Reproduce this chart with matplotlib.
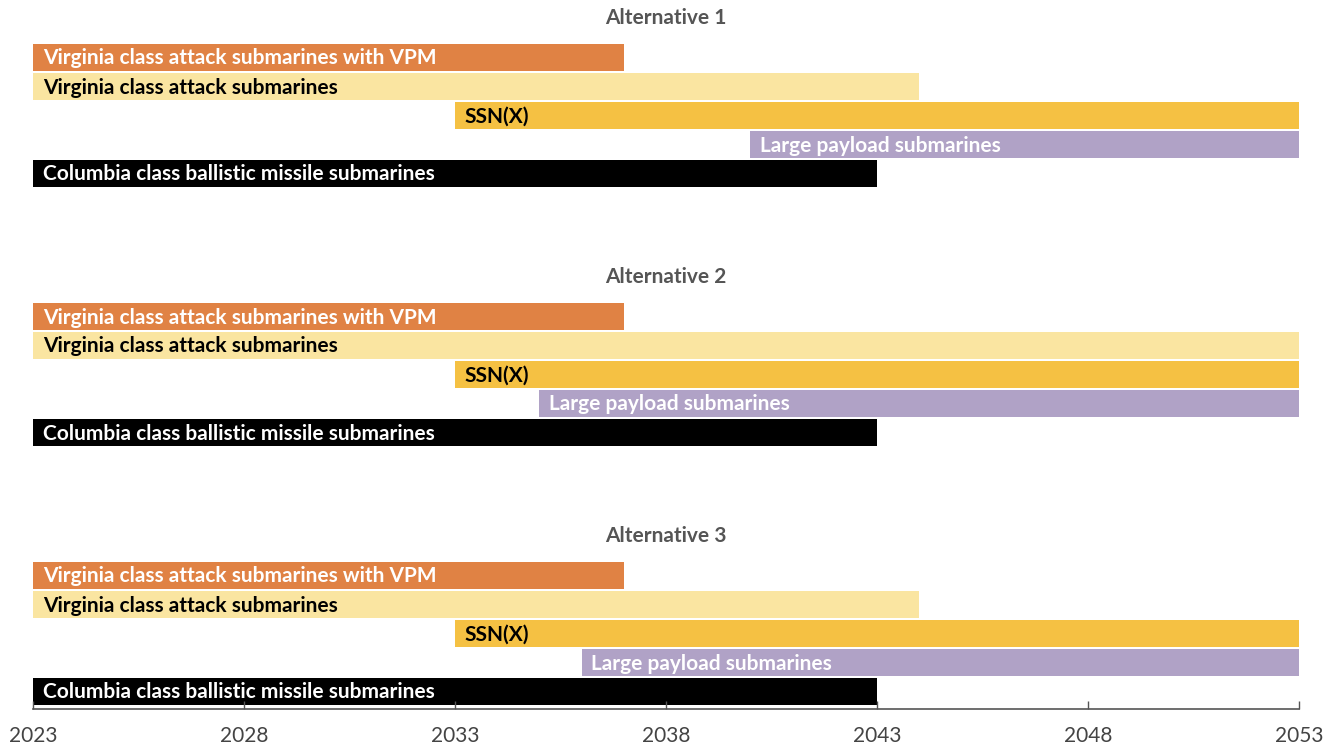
import matplotlib.pyplot as plt

# submarine build programs, start/end year per alternative
programs = ["Virginia class attack submarines with VPM",
            "Virginia class attack submarines",
            "SSN(X)",
            "Large payload submarines",
            "Columbia class ballistic missile submarines"]
colors = ["#E08244", "#FAE5A1", "#F5C143", "#B0A2C6", "#000000"]
text_colors = ["white", "black", "black", "white", "white"]

alternatives = ["Alternative 1", "Alternative 2", "Alternative 3"]
starts = [[2023, 2023, 2033, 2040, 2023],
          [2023, 2023, 2033, 2035, 2023],
          [2023, 2023, 2033, 2036, 2023]]
ends = [[2037, 2044, 2053, 2053, 2043],
        [2037, 2053, 2053, 2053, 2043],
        [2037, 2044, 2053, 2053, 2043]]

years = [2023, 2028, 2033, 2038, 2043, 2048, 2053]

plt.rcParams['font.family'] = ['Lato', 'DejaVu Sans']

W, H = 1336, 746
fig = plt.figure(figsize=(W / 100, H / 100), dpi=100)
axis_y = 709
ax = fig.add_axes([33 / W, (H - axis_y) / H, 1266 / W, axis_y / H])
ax.set_xlim(2023, 2053)
ax.set_ylim(axis_y, 0)

row_h = 29
block_gap = 259
for i, alt in enumerate(alternatives):
    top = 43 + block_gap * i
    ax.text(2038, top - 25, alt, ha='center', va='center', fontsize=15,
            fontweight='bold', color='#555555')
    for j, name in enumerate(programs):
        yc = top + row_h * j + row_h / 2
        s, e = starts[i][j], ends[i][j]
        ax.barh(yc, e - s, left=s, height=row_h - 1.2, color=colors[j],
                edgecolor='none')
        ax.annotate(name, (s, yc + 1), xytext=(7, 0), textcoords='offset points',
                    ha='left', va='center', fontsize=15, fontweight='bold',
                    color=text_colors[j])

for sp in ['top', 'left', 'right']:
    ax.spines[sp].set_visible(False)
ax.spines['bottom'].set_color('#555555')
ax.spines['bottom'].set_linewidth(1.2)
ax.set_yticks([])
ax.set_xticks(years)
ax.set_xticklabels([str(y) for y in years])
ax.tick_params(axis='x', direction='in', length=6, width=1, color='#555555',
               labelsize=15, labelcolor='#444444', pad=12)

fig.savefig('out.png', dpi=100)
